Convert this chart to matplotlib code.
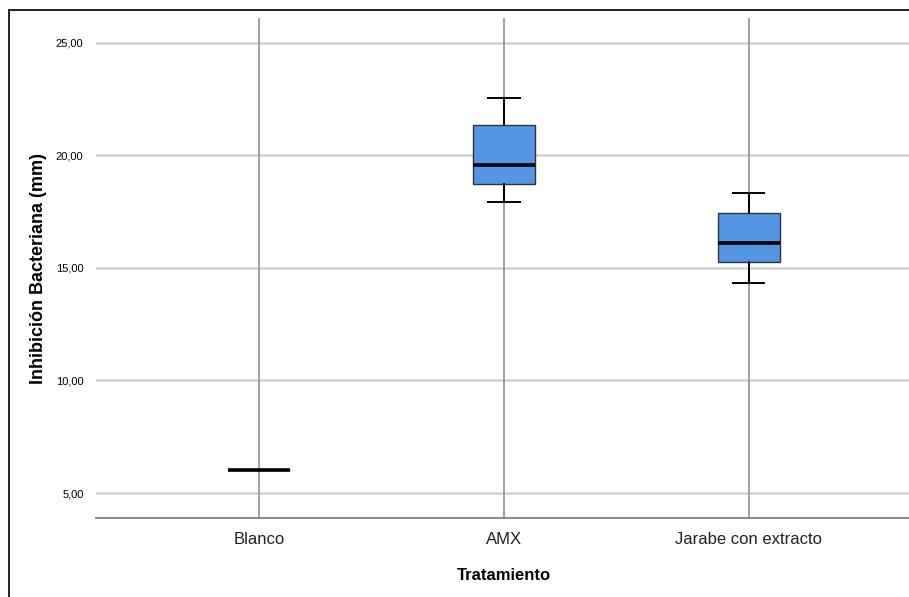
import matplotlib
matplotlib.use('Agg')
import matplotlib.pyplot as plt
from matplotlib.patches import Rectangle

plt.rcParams['font.family'] = ['Liberation Sans', 'DejaVu Sans']

groups = ['Blanco', 'AMX', 'Jarabe con extracto']
whislo = [6.0, 17.93, 14.33]
q1 = [6.0, 18.74, 15.24]
med = [6.0, 19.57, 16.11]
q3 = [6.0, 21.33, 17.42]
whishi = [6.0, 22.53, 18.31]
yticks = [5, 10, 15, 20, 25]

stats = []
for g, lo, a, m, b, hi in zip(groups, whislo, q1, med, q3, whishi):
    stats.append({'label': g, 'whislo': lo, 'q1': a, 'med': m, 'q3': b, 'whishi': hi, 'fliers': []})

fig = plt.figure(figsize=(9.09, 5.97), dpi=100)
ax = fig.add_axes([96/909, 79/597, 816/909, 500/597])

# outer frame
fig.patches.append(Rectangle((9/909, -0.1), 1.2, 1.1 - 10/597, transform=fig.transFigure,
                             fill=False, edgecolor='#222222', linewidth=1.4, zorder=0))

pos = list(range(len(groups)))
for p in pos:
    ax.axvline(p, color='#9a9a9a', linewidth=1.3, zorder=1)
for t in yticks:
    ax.axhline(t, color='#d2d2d2', linewidth=1.8, zorder=0.5)

ax.bxp(stats, positions=pos, widths=0.253, patch_artist=True, showfliers=False,
       boxprops=dict(facecolor='#5595e5', edgecolor='#333333', linewidth=1.0),
       medianprops=dict(color='black', linewidth=2.6),
       whiskerprops=dict(color='black', linewidth=1.4),
       capprops=dict(color='black', linewidth=1.4),
       capwidths=0.127, zorder=3)

ax.set_xlim(-0.666, 2.666)
ax.set_ylim(3.89, 26.1)
ax.set_yticks(yticks)
ax.set_yticklabels(['%d,00' % t for t in yticks], fontsize=8)
ax.set_xticks(pos)
ax.set_xticklabels(groups, fontsize=12, color='#222222')
ax.tick_params(axis='both', length=0)
ax.tick_params(axis='x', pad=10)
ax.tick_params(axis='y', pad=9)

for s in ['top', 'right', 'left']:
    ax.spines[s].set_visible(False)
ax.spines['bottom'].set_color('#808080')
ax.spines['bottom'].set_linewidth(1.3)

ax.set_ylabel('Inhibición Bacteriana (mm)', fontsize=13, fontweight='bold')
ax.yaxis.set_label_coords(-49/816, 0.5)
ax.set_xlabel('Tratamiento', fontsize=12, fontweight='bold')
ax.xaxis.set_label_coords(0.5, -50/500)

fig.savefig('out.png', dpi=100)
